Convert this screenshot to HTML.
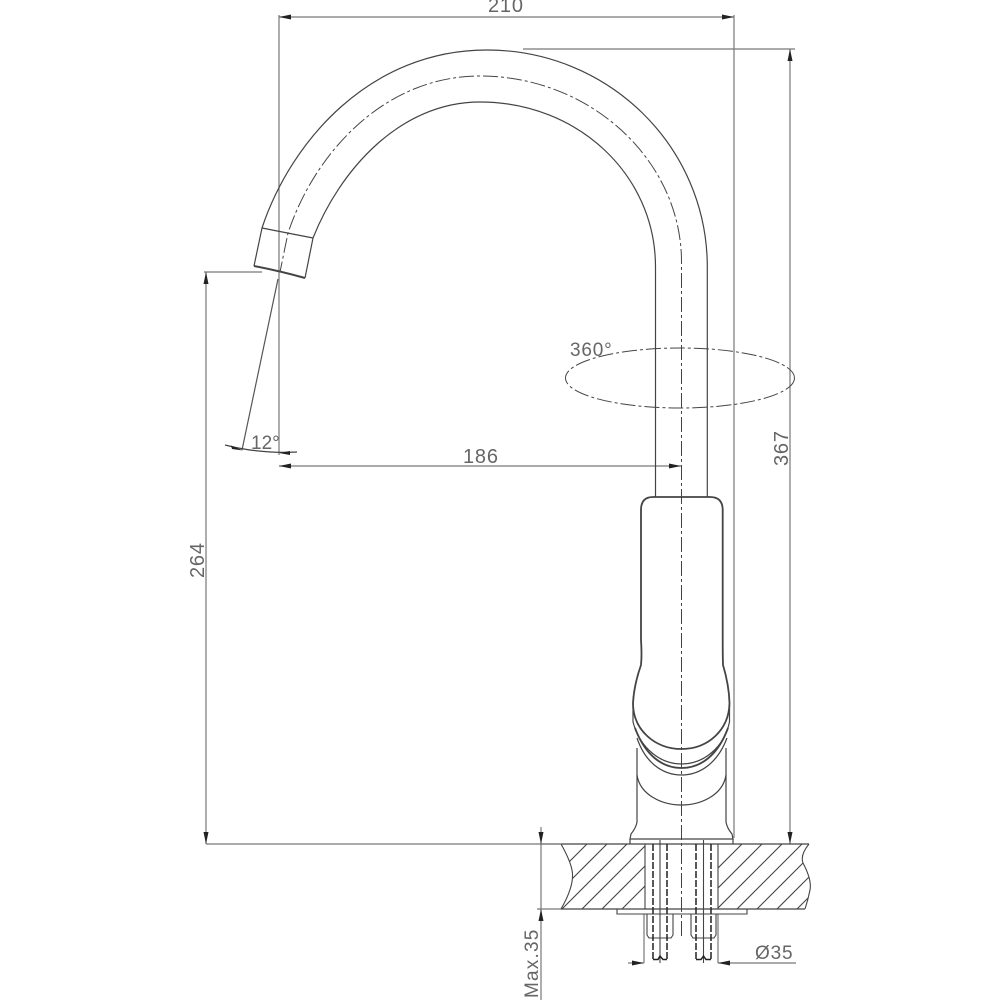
<!DOCTYPE html>
<html><head><meta charset="utf-8"><style>
html,body{margin:0;padding:0;background:#fff}
svg{display:block}
text{font-family:"Liberation Sans",sans-serif;fill:#666;font-size:20px;letter-spacing:.8px}
</style></head><body>
<svg width="1000" height="1000" viewBox="0 0 1000 1000" xmlns="http://www.w3.org/2000/svg">
<defs>
<clipPath id="deck"><path d="M561 844H645V909H561Q575 885 572 870Q570 860 561 844ZM718 844H809Q800 855 803 863Q812 880 810 890Q808 900 805 909H718Z"/></clipPath>
<marker id="a" viewBox="0 0 12 5" refX="12" refY="2.5" markerWidth="12" markerHeight="5" orient="auto-start-reverse" markerUnits="userSpaceOnUse"><path d="M0 0L12 2.5L0 5Z" fill="#222"/></marker>
</defs>
<!-- dimension lines -->
<g fill="none" stroke="#777" stroke-width="1.2">
<path d="M279 15V455M734 15V838"/>
<path d="M279 17H734" marker-start="url(#a)" marker-end="url(#a)"/>
<path d="M523 49H795"/>
<path d="M790 49V844" marker-start="url(#a)" marker-end="url(#a)"/>
<path d="M204 272H262M206 844H560"/>
<path d="M206 272V844" marker-start="url(#a)" marker-end="url(#a)"/>
<path d="M279 466H681" marker-start="url(#a)" marker-end="url(#a)"/>
<path d="M278 279L242 450" stroke="#555"/>
<path d="M225 445Q260 454 297 452" stroke="#444"/>
<path d="M537 909H561M561 844H540"/>
<path d="M541 827V844" marker-end="url(#a)"/>
<path d="M541 1000V909" marker-end="url(#a)"/>
<path d="M541 844V909"/>
<path d="M628 963H644" marker-end="url(#a)"/>
<path d="M796 963H718" marker-end="url(#a)"/>
<path d="M644 914V963M718 914V963"/>
</g>
<path d="M243 450.5L231 445.5L232 449ZM279 453L290 451V455Z" fill="#222"/>
<!-- center lines -->
<g fill="none" stroke="#444" stroke-width="1" stroke-dasharray="15 3 3 3">
<path d="M681.5 936V262C681.5 160 590 76 480 76C385 76 315 152 288 233L280 272"/>
<ellipse cx="680" cy="378" rx="114.5" ry="30"/>
</g>
<!-- faucet -->
<g fill="none" stroke="#444" stroke-width="1.2">
<path d="M655.5 497V267C655.5 175 578 102 480 102C400 102 340 170 313 238L305 278"/>
<path d="M707.3 497V267C707.3 147 609 50 487 50C370 50 291 141 262 228L254 266"/>
<path d="M262 228L313 238"/>
<path d="M254 266Q280 271 305 278" stroke-width="2"/>
<path d="M653 497H710Q722.7 497 722.7 510V640Q722.7 655 723 665Q729 685 729.5 703C729 730 708 749 681.5 749C655 749 633 730 633 703Q634 685 641 665Q642 655 641 640V510Q641 497 653 497Z" stroke-width="1.8"/>
<path d="M633 703V722C640 748 660 764 681.5 764C703 764 724 748 729.5 722V703"/>
<path d="M635 728C645 755 662 768 681.5 768C701 768 718 755 728 728" stroke-width="1.8"/>
<path d="M637 738C645 762 662 775 681.5 775C701 775 718 762 727 738"/>
<path d="M637 775C640 795 662 805 681.5 805C701 805 723 795 726 775"/>
<path d="M637 748V822Q636 828 631 834L630 839H733L732 834Q727 828 726 822V748"/>
<path d="M630 839V844M733 839V844"/>
</g>
<!-- deck -->
<g fill="none" stroke="#444" stroke-width="1.1">
<g clip-path="url(#deck)">
<path d="M587 844L522 909M607 844L542 909M627 844L562 909M647 844L582 909M667 844L602 909M687 844L622 909M742 844L677 909M762 844L697 909M782 844L717 909M802 844L737 909M822 844L757 909M842 844L777 909M862 844L797 909"/>
</g>
<path d="M561 844Q570 860 572 870Q575 885 561 909M809 844Q800 855 803 863Q812 880 810 890Q808 900 805 909"/>
<path d="M561 844H809M561 909H805" stroke-width="1.3"/>
<path d="M645 844V909M718 844V909"/>
<path d="M617 909V914H747V909"/>
<path d="M647 914V935L649 938H671L673 935V914M691 914V935L693 938H714L716 935V914"/>
<path d="M660 840V963M703.5 840V963"/>
</g>
<g fill="none" stroke="#222" stroke-width="1.5" stroke-dasharray="7 2">
<path d="M653 844V959M667 844V959M696 844V959M711 844V959"/>
</g>
<path d="M653 959.5H658L660 956L663 959.5H667M696 959.5H701L703.5 956L706 959.5H711" fill="none" stroke="#222" stroke-width="1.5"/>
<!-- labels -->
<text x="488" y="12">210</text>
<text x="463" y="463">186</text>
<text x="570" y="356" style="font-size:19px">360°</text>
<text x="251" y="449" style="font-size:19px;letter-spacing:0">12°</text>
<text x="755" y="959" style="font-size:19px">Ø35</text>
<text transform="translate(788 466) rotate(-90)">367</text>
<text transform="translate(204 578) rotate(-90)">264</text>
<text transform="translate(538 998) rotate(-90)" style="font-size:19px;letter-spacing:1.2px">Max.35</text>
</svg>
</body></html>
